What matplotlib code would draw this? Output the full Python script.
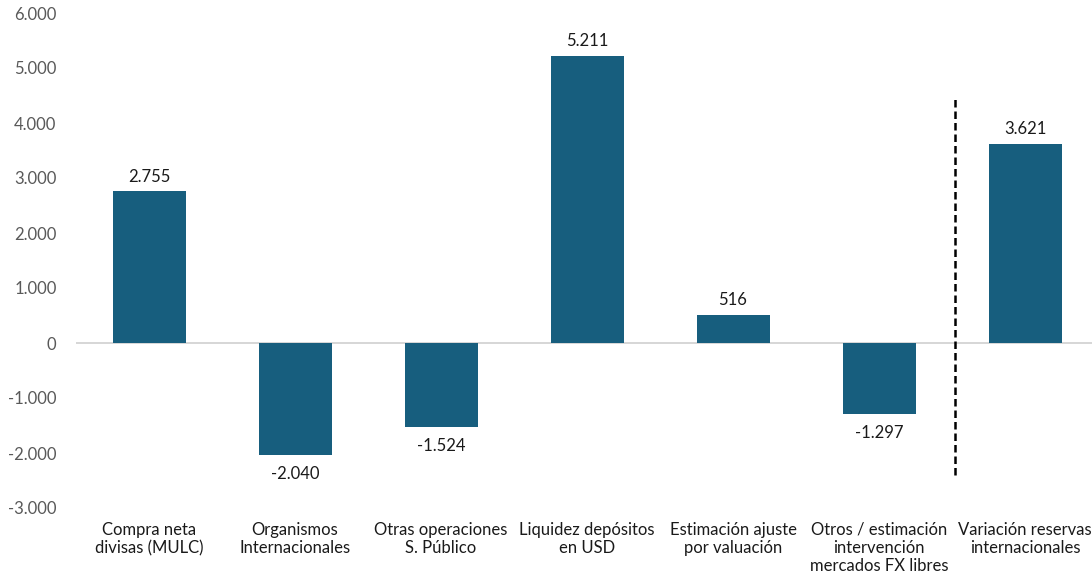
import matplotlib
matplotlib.use("Agg")
import matplotlib.pyplot as plt
from matplotlib.ticker import FuncFormatter

plt.rcParams['font.family'] = ['Lato', 'DejaVu Sans']

categories = [
    "Compra neta\ndivisas (MULC)",
    "Organismos\nInternacionales",
    "Otras operaciones\nS. Público",
    "Liquidez depósitos\nen USD",
    "Estimación ajuste\npor valuación",
    "Otros / estimación\nintervención\nmercados FX libres",
    "Variación reservas\ninternacionales",
]
values = [2755, -2040, -1524, 5211, 516, -1297, 3621]
y_ticks = [-3000, -2000, -1000, 0, 1000, 2000, 3000, 4000, 5000, 6000]

bar_color = "#175e7e"


def fmt_thousands(v):
    return f"{int(v):,}".replace(",", ".")


fig = plt.figure(figsize=(10.92, 5.85), dpi=100)
ax = fig.add_axes([76 / 1092, 1 - 508 / 585, (1098 - 76) / 1092, (508 - 13) / 585])

x = list(range(len(values)))
ax.bar(x, values, width=0.5, color=bar_color, zorder=3)

for xi, v in zip(x, values):
    if v >= 0:
        ax.annotate(fmt_thousands(v), (xi, v), xytext=(0, 5), textcoords="offset points",
                    ha="center", va="bottom", fontsize=12, color="#1a1a1a")
    else:
        ax.annotate(fmt_thousands(v), (xi, v), xytext=(0, -8), textcoords="offset points",
                    ha="center", va="top", fontsize=12, color="#1a1a1a")

ax.axhline(0, color="#d0d0d0", linewidth=1.2, zorder=2)
ax.plot([5.52, 5.52], [-2400, 4500], color="black", linestyle=(0, (3, 1.6)),
        linewidth=1.8, zorder=4)

ax.set_ylim(-3000, 6000)
ax.set_xlim(-0.5, 6.5)
ax.set_yticks(y_ticks)
ax.yaxis.set_major_formatter(FuncFormatter(lambda v, p: fmt_thousands(v)))
ax.set_xticks(x)
ax.set_xticklabels(categories, fontsize=12, color="#1a1a1a", linespacing=1.15, va="top")
ax.tick_params(axis="y", labelsize=12, labelcolor="#595959", length=0, pad=14)
ax.tick_params(axis="x", length=0, pad=10)
for s in ax.spines.values():
    s.set_visible(False)

fig.savefig("out.png", dpi=100)
